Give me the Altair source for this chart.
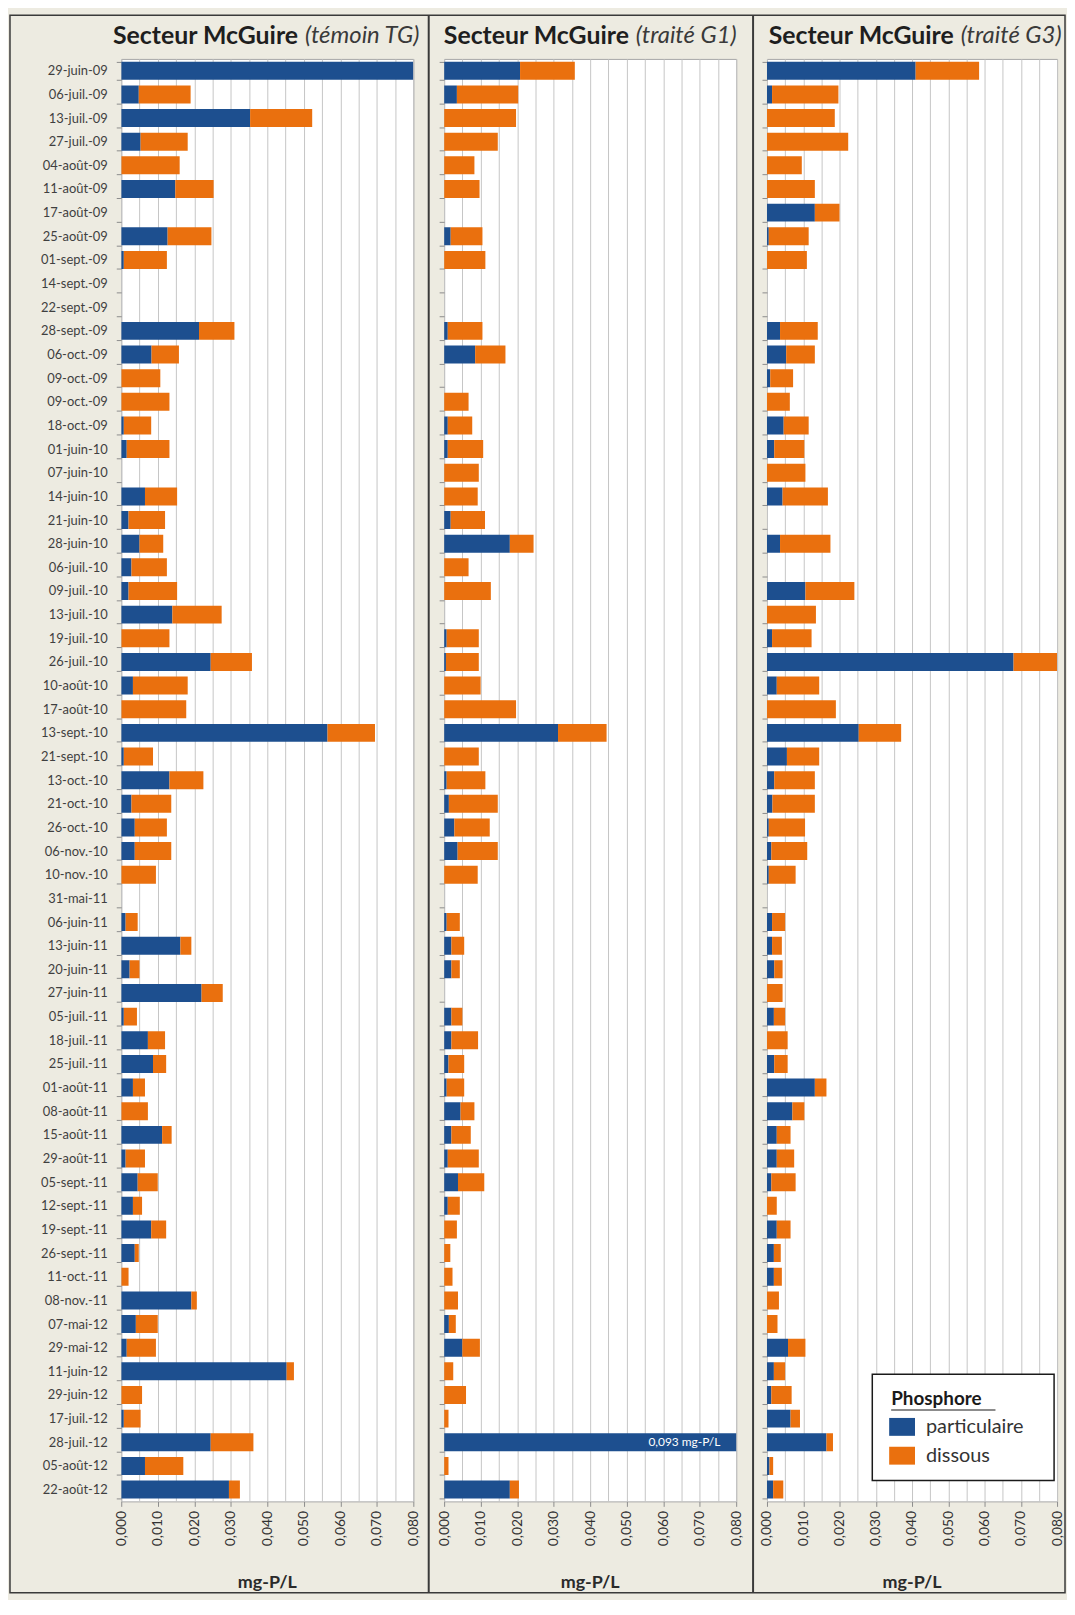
import altair as alt
import pandas as pd

dates = [
    "29-juin-09", "06-juil.-09", "13-juil.-09", "27-juil.-09", "04-août-09", "11-août-09",
    "17-août-09", "25-août-09", "01-sept.-09", "14-sept.-09", "22-sept.-09", "28-sept.-09",
    "06-oct.-09", "09-oct.-09", "09-oct.-09\u200b", "18-oct.-09", "01-juin-10", "07-juin-10",
    "14-juin-10", "21-juin-10", "28-juin-10", "06-juil.-10", "09-juil.-10", "13-juil.-10",
    "19-juil.-10", "26-juil.-10", "10-août-10", "17-août-10", "13-sept.-10", "21-sept.-10",
    "13-oct.-10", "21-oct.-10", "26-oct.-10", "06-nov.-10", "10-nov.-10", "31-mai-11",
    "06-juin-11", "13-juin-11", "20-juin-11", "27-juin-11", "05-juil.-11", "18-juil.-11",
    "25-juil.-11", "01-août-11", "08-août-11", "15-août-11", "29-août-11", "05-sept.-11",
    "12-sept.-11", "19-sept.-11", "26-sept.-11", "11-oct.-11", "08-nov.-11", "07-mai-12",
    "29-mai-12", "11-juin-12", "29-juin-12", "17-juil.-12", "28-juil.-12", "05-août-12",
    "22-août-12",
]

# Secteur McGuire (témoin TG)
tg_part = [
    0.080, 0.0048, 0.0353, 0.0053, 0, 0.0148, None, 0.0127, 0.0007, None, None, 0.0213,
    0.0083, 0, 0, 0.0007, 0.0015, None, 0.0065, 0.002, 0.005, 0.0028, 0.002, 0.014,
    0, 0.0245, 0.0032, 0, 0.0565, 0.0007, 0.0132, 0.0028, 0.0037, 0.0037, 0, None,
    0.0012, 0.0162, 0.0023, 0.022, 0.0007, 0.0073, 0.0087, 0.0032, 0, 0.0112, 0.0012, 0.0045,
    0.0032, 0.0082, 0.0037, 0, 0.0192, 0.004, 0.0015, 0.0453, 0, 0.0007, 0.0245, 0.0065,
    0.0295,
]
tg_diss = [
    0, 0.0142, 0.017, 0.0129, 0.016, 0.0105, None, 0.012, 0.0118, None, None, 0.0097,
    0.0075, 0.0107, 0.0132, 0.0075, 0.0117, None, 0.0088, 0.010, 0.0065, 0.0097, 0.0133, 0.0135,
    0.0132, 0.0113, 0.015, 0.0178, 0.013, 0.008, 0.0093, 0.0109, 0.0088, 0.010, 0.0095, None,
    0.0033, 0.003, 0.0027, 0.0058, 0.0036, 0.0047, 0.0036, 0.0033, 0.0073, 0.0026, 0.0053, 0.0055,
    0.0025, 0.0041, 0.0011, 0.002, 0.0015, 0.006, 0.008, 0.002, 0.0057, 0.0046, 0.0117, 0.0105,
    0.003,
]
# Secteur McGuire (traité G1)
g1_part = [
    0.0208, 0.0035, 0, 0, 0, 0, None, 0.0018, 0, None, None, 0.001,
    0.0085, None, 0, 0.001, 0.001, 0, 0, 0.0018, 0.018, 0, 0, None,
    0.0007, 0.0005, 0, 0, 0.0312, 0, 0.0007, 0.0013, 0.0028, 0.0037, 0, None,
    0.0007, 0.002, 0.002, None, 0.002, 0.002, 0.0012, 0.0007, 0.0045, 0.002, 0.001, 0.0038,
    0.001, 0, 0, 0, 0, 0.0013, 0.005, 0, 0, 0, 0.093, 0,
    0.018,
]
g1_diss = [
    0.015, 0.0168, 0.0197, 0.0147, 0.0083, 0.0097, None, 0.0087, 0.0113, None, None, 0.0095,
    0.0083, None, 0.0067, 0.0067, 0.0097, 0.0095, 0.0092, 0.0094, 0.0065, 0.0067, 0.0128, None,
    0.0088, 0.009, 0.010, 0.0197, 0.0133, 0.0095, 0.0106, 0.0134, 0.0097, 0.011, 0.0092, None,
    0.0036, 0.0035, 0.0023, None, 0.003, 0.0073, 0.0043, 0.0048, 0.0038, 0.0053, 0.0085, 0.0072,
    0.0033, 0.0035, 0.0017, 0.0023, 0.0038, 0.0019, 0.0048, 0.0025, 0.006, 0.0012, 0, 0.0012,
    0.0025,
]
# Secteur McGuire (traité G3)
g3_part = [
    0.041, 0.0014, 0, 0, 0, 0, 0.0132, 0.0005, 0, None, None, 0.0036,
    0.0053, 0.0009, 0, 0.0046, 0.002, 0, 0.0043, None, 0.0036, None, 0.0106, 0,
    0.0014, 0.068, 0.0027, 0, 0.0253, 0.0055, 0.002, 0.0015, 0.0005, 0.0012, 0.0005, None,
    0.0014, 0.0014, 0.002, 0, 0.0019, 0, 0.002, 0.0132, 0.007, 0.0027, 0.0027, 0.0012,
    0, 0.0027, 0.0019, 0.0019, 0, 0, 0.0058, 0.0019, 0.0012, 0.0065, 0.0164, 0.0007,
    0.0017,
]
g3_diss = [
    0.0175, 0.0183, 0.0187, 0.0224, 0.0096, 0.0132, 0.0068, 0.011, 0.011, None, None, 0.0104,
    0.0079, 0.0063, 0.0063, 0.0069, 0.0083, 0.0106, 0.0125, None, 0.0139, None, 0.0135, 0.0135,
    0.0109, 0.012, 0.0117, 0.019, 0.0117, 0.0089, 0.0112, 0.0117, 0.010, 0.0099, 0.0074, None,
    0.0036, 0.0027, 0.0023, 0.0043, 0.0031, 0.0057, 0.0037, 0.0032, 0.0033, 0.0038, 0.0048, 0.0067,
    0.0027, 0.0038, 0.0019, 0.0022, 0.0033, 0.0029, 0.0048, 0.0031, 0.0056, 0.0026, 0.0018, 0.001,
    0.0028,
]

types = ["particulaire", "dissous"]
type_colors = ["#1D4F8F", "#EA700E"]
title_main = "Secteur McGuire"
title_subs = ["(témoin TG)", "(traité G1)", "(traité G3)"]
x_axis_title = "mg-P/L"
x_grid_values = [0.0, 0.005, 0.01, 0.015, 0.02, 0.025, 0.03, 0.035, 0.04,
                 0.045, 0.05, 0.055, 0.06, 0.065, 0.07, 0.075, 0.08]
legend_title = "Phosphore"
clip_note = ["0,093 mg-P/L"]
clip_note_date = ["28-juil.-12"]

FONT = "Lato"
H = 1452
widths = [294, 294, 292]
SPACING = 31
title_split = [178, 186, 188]
TOP = -44
BOTTOM = 1544

color_scale = alt.Scale(domain=types, range=type_colors)
y_scale = alt.Scale(domain=dates, paddingInner=0.24, paddingOuter=0.12)
x_scale = alt.Scale(domain=[0, 0.08], nice=False, zero=True)

label_expr = ("(round(datum.value * 1000) % 10 == 0) ? "
              "replace(format(datum.value, '.3f'), '.', ',') : ''")
tick_op = {"condition": {"test": "round(datum.value * 1000) % 10 != 0", "value": 0}, "value": 1}


def long_df(part, diss):
    recs = []
    for d, p, s in zip(dates, part, diss):
        if p is not None:
            recs.append({"date": d, "type": types[0], "value": p, "ord": 0})
        if s is not None:
            recs.append({"date": d, "type": types[1], "value": s, "ord": 1})
    return pd.DataFrame(recs)


one = pd.DataFrame({"k": [0]})


def txt(s, x, y, **kw):
    return alt.Chart(pd.DataFrame({"t": [s]})).mark_text(font=FONT, **kw).encode(
        text="t:N", x=alt.value(x), y=alt.value(y))


def panel(i, part, diss):
    W = widths[i]
    df = long_df(part, diss)
    yaxis = alt.Axis(title=None, labels=(i == 0), labelFont=FONT, labelFontSize=13,
                     labelColor="#3F3F3F", labelPadding=9, tickBand="extent", tickSize=5,
                     tickColor="#8C8C8C", domain=False, grid=False)
    xaxis = alt.Axis(values=x_grid_values, title=None, labelAngle=270, labelExpr=label_expr,
                     labelFont=FONT, labelFontSize=14, labelColor="#333333", labelPadding=4,
                     labelOverlap=False, labelFlush=False, grid=True, gridColor="#C6C6C6",
                     gridWidth=1, tickSize=5, tickColor="#8C8C8C", domain=False,
                     tickOpacity=tick_op)
    bars = alt.Chart(df).mark_bar(clip=True).encode(
        y=alt.Y("date:N", scale=y_scale, axis=yaxis),
        x=alt.X("value:Q", stack="zero", scale=x_scale, axis=xaxis),
        color=alt.Color("type:N", scale=color_scale, legend=None),
        order=alt.Order("ord:Q", sort="ascending"),
    )
    layers = [bars]
    sp = title_split[i]
    layers.append(txt(title_main, sp, -23, align="right", baseline="middle", fontSize=25,
                      fontWeight="bold", color="#1E1E1E"))
    layers.append(txt(title_subs[i], sp + 7, -23, align="left", baseline="middle", fontSize=24,
                      fontStyle="italic", color="#3A3A3A"))
    layers.append(txt(x_axis_title, W / 2, 1534, align="center", baseline="middle", fontSize=18,
                      fontWeight="bold", color="#2A2A2A"))

    if i == 0:
        frame = alt.Chart(one).mark_rect(fillOpacity=0, stroke="#3A3A3A", strokeWidth=1.5).encode(
            x=alt.value(-112), x2=alt.value(950), y=alt.value(TOP), y2=alt.value(BOTTOM))
        layers.insert(0, frame)
        for sx in [309.5, 636]:
            layers.append(alt.Chart(one).mark_rule(color="#3A3A3A", strokeWidth=2).encode(
                x=alt.value(sx), y=alt.value(TOP), y2=alt.value(BOTTOM)))
    if i == 1:
        note = pd.DataFrame({"date": clip_note_date, "t": clip_note})
        layers.append(alt.Chart(note).mark_text(font=FONT, fontSize=12, color="white",
                                                align="right", baseline="middle").encode(
            y=alt.Y("date:N", scale=y_scale), x=alt.value(W - 16), text="t:N"))
    if i == 2:
        lx, ly = 106, 1324
        layers.append(alt.Chart(one).mark_rect(fill="white", stroke="#1A1A1A", strokeWidth=1.5).encode(
            x=alt.value(lx), x2=alt.value(lx + 183), y=alt.value(ly), y2=alt.value(ly + 107)))
        layers.append(txt(legend_title, lx + 19, ly + 25, align="left", baseline="middle",
                          fontSize=19, fontWeight="bold", color="#1A1A1A"))
        layers.append(alt.Chart(one).mark_rule(color="#1A1A1A", strokeWidth=1.2).encode(
            x=alt.value(lx + 19), x2=alt.value(lx + 124), y=alt.value(ly + 36)))
        for k, t in enumerate(types):
            yy = ly + 44 + k * 29
            layers.append(alt.Chart(pd.DataFrame({"type": [t]})).mark_rect().encode(
                x=alt.value(lx + 17), x2=alt.value(lx + 43), y=alt.value(yy), y2=alt.value(yy + 18),
                color=alt.Color("type:N", scale=color_scale, legend=None)))
            layers.append(txt(t, lx + 54, yy + 9, align="left", baseline="middle",
                              fontSize=20, color="#333333"))
    return alt.layer(*layers).properties(width=W, height=H)


p1 = panel(0, tg_part, tg_diss)
p2 = panel(1, g1_part, g1_diss)
p3 = panel(2, g3_part, g3_diss)

chart = alt.hconcat(p1, p2, p3, spacing=SPACING, bounds="flush").properties(
    padding=0, background="#EDEBE1"
).configure_view(stroke="#A6A6A6", strokeWidth=1, fill="white")

chart.save("out.html", embed_options={"renderer": "svg", "actions": False})
